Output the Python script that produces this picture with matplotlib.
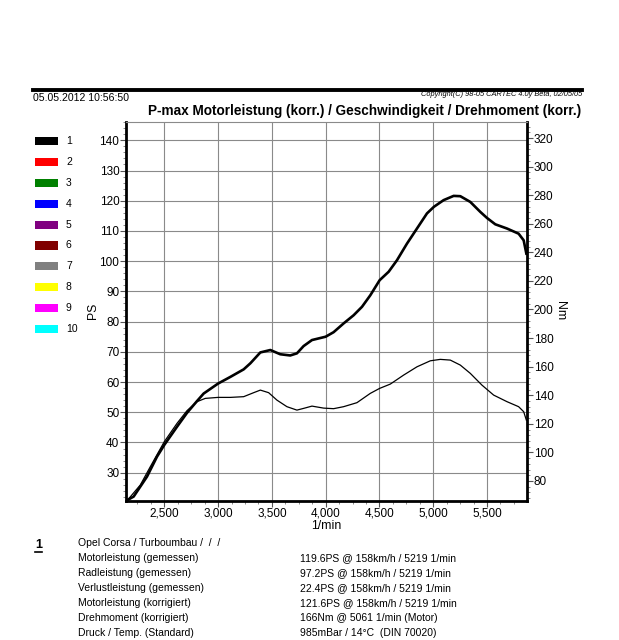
import matplotlib
matplotlib.use("Agg")
import matplotlib.pyplot as plt
from matplotlib.ticker import MultipleLocator, AutoMinorLocator, FuncFormatter
from matplotlib.patches import Rectangle

plt.rcParams['font.family'] = ['Liberation Sans', 'DejaVu Sans']

# ---- data ----
power_rpm = [2159, 2215, 2277, 2339, 2432, 2500, 2618, 2711, 2804, 2866, 3000, 3114, 3238,
             3300, 3393, 3486, 3578, 3671, 3733, 3795, 3873, 4000, 4074, 4167, 4260, 4338,
             4415, 4502, 4586, 4663, 4756, 4849, 4942, 5007, 5097, 5190, 5252, 5345, 5438,
             5500, 5577, 5686, 5794, 5841, 5866]
power_ps = [21.0, 22.1, 25.4, 28.7, 35.3, 39.2, 45.2, 49.8, 53.7, 56.2, 59.5, 61.7, 64.2,
            66.2, 69.8, 70.6, 69.2, 68.8, 69.5, 71.9, 73.9, 75.0, 76.5, 79.4, 82.1, 84.9,
            88.7, 93.7, 96.5, 100.3, 105.8, 110.8, 115.8, 118.0, 120.2, 121.6, 121.5, 119.6,
            116.3, 114.3, 112.2, 110.8, 109.1, 106.9, 102.5]

torque_rpm = [2159, 2277, 2370, 2500, 2618, 2711, 2804, 2881, 3000, 3114, 3238, 3331, 3393,
              3470, 3547, 3640, 3733, 3795, 3873, 3981, 4074, 4167, 4291, 4415, 4502, 4601,
              4725, 4849, 4973, 5066, 5159, 5252, 5345, 5453, 5562, 5686, 5794, 5841, 5866]
torque_nm = [66.7, 77.2, 90.0, 107.5, 120.3, 129.2, 135.5, 137.8, 138.5, 138.5, 139.0, 141.8,
             143.6, 141.8, 136.6, 132.0, 129.6, 130.8, 132.4, 131.0, 130.6, 132.0, 134.8,
             141.3, 144.8, 147.8, 154.1, 159.9, 164.1, 165.1, 164.6, 161.1, 155.3, 147.1,
             140.1, 135.5, 132.0, 128.5, 122.6]

legend_labels = ['1', '2', '3', '4', '5', '6', '7', '8', '9', '10']
legend_colors = ['#000000', '#ff0000', '#008000', '#0000ff', '#800080', '#800000',
                 '#808080', '#ffff00', '#ff00ff', '#00ffff']

info_names = ['Motorleistung (gemessen)', 'Radleistung (gemessen)', 'Verlustleistung (gemessen)',
              'Motorleistung (korrigiert)', 'Drehmoment (korrigiert)', 'Druck / Temp. (Standard)']
info_values = ['119.6PS @ 158km/h / 5219 1/min', '97.2PS @ 158km/h / 5219 1/min',
               '22.4PS @ 158km/h / 5219 1/min', '121.6PS @ 158km/h / 5219 1/min',
               '166Nm @ 5061 1/min (Motor)', '985mBar / 14°C  (DIN 70020)']

W, H = 619, 640
fig = plt.figure(figsize=(W / 100, H / 100), dpi=100)
fig.patch.set_facecolor('white')

def fx(px):
    return px / W

def fy(py):
    return 1 - py / H

ax_l, ax_r, ax_t, ax_b = 126, 527, 122, 501
ax = fig.add_axes([fx(ax_l), fy(ax_b), fx(ax_r) - fx(ax_l), fy(ax_t) - fy(ax_b)])
ax2 = ax.twinx()

ax.set_xlim(2144, 5872)
ax.set_ylim(20.64, 146.05)
ax2.set_ylim(66.0, 331.2)

ax.plot(power_rpm, power_ps, color='black', lw=1.9, zorder=3)
ax2.plot(torque_rpm, torque_nm, color='black', lw=0.9, zorder=3)

ax.xaxis.set_major_locator(MultipleLocator(500))
ax.xaxis.set_minor_locator(AutoMinorLocator(4))
ax.yaxis.set_major_locator(MultipleLocator(10))
ax.yaxis.set_minor_locator(AutoMinorLocator(5))
ax2.yaxis.set_major_locator(MultipleLocator(20))
ax2.yaxis.set_minor_locator(AutoMinorLocator(5))
ax.xaxis.set_major_formatter(FuncFormatter(lambda v, p: f"{int(v):,}"))

ax.grid(True, which='major', color='#8a8a8a', lw=0.8)
ax.set_axisbelow(True)

for a in (ax, ax2):
    a.tick_params(which='major', length=4, width=0.8, labelsize=8.5, pad=0.8, color='#555555')
    a.tick_params(which='minor', length=2, width=0.6, color='#777777')

for s in ('left', 'bottom', 'right'):
    ax2.spines[s].set_linewidth(2.0)
    ax2.spines[s].set_color('black')
ax2.spines['top'].set_linewidth(0.8)
ax2.spines['top'].set_color('#8a8a8a')
for s in ax.spines.values():
    s.set_visible(False)

ax.set_xlabel('1/min', fontsize=8.8, labelpad=0)
ax.set_ylabel('PS', fontsize=8.8)
ax2.set_ylabel('Nm', fontsize=8.8, rotation=270)
axw = ax_r - ax_l
axh = ax_b - ax_t
ax.yaxis.set_label_coords((99 - ax_l) / axw, (ax_b - 311) / axh)
ax2.yaxis.set_label_coords((566 - ax_l) / axw, (ax_b - 311) / axh)

# header
fig.add_artist(plt.Line2D([fx(33), fx(582)], [fy(90), fy(90)], color='black', lw=2.8))
fig.text(fx(33), fy(98), '05.05.2012 10:56:50', fontsize=7.6, va='center', ha='left')
fig.text(fx(582), fy(95), 'Copyright(C) 98-05 CARTEC 4.0y Beta, 02/05/05',
         fontsize=5.3, style='italic', va='center', ha='right')
fig.text(fx(365), fy(111), 'P-max Motorleistung (korr.) / Geschwindigkeit / Drehmoment (korr.)',
         fontsize=9.8, fontweight='bold', va='center', ha='center')

# legend swatches
for i, (lab, col) in enumerate(zip(legend_labels, legend_colors)):
    yc = 141 + i * 20.9
    fig.add_artist(Rectangle((fx(35), fy(yc + 4)), fx(23), fy(yc - 4) - fy(yc + 4),
                             transform=fig.transFigure, facecolor=col, edgecolor='none'))
    fig.text(fx(66), fy(yc), lab, fontsize=7.5, va='center', ha='left')

# info block
fig.text(fx(35), fy(545), '1', fontsize=9, fontweight='bold', va='center', ha='left')
fig.add_artist(plt.Line2D([fx(35), fx(42)], [fy(552), fy(552)], color='black', lw=1.2))
fig.text(fx(78), fy(543), 'Opel Corsa / Turboumbau /  /  /', fontsize=7.5, va='center', ha='left')
for i, (n, v) in enumerate(zip(info_names, info_values)):
    yy = 558 + i * 15
    fig.text(fx(78), fy(yy), n, fontsize=7.5, va='center', ha='left')
    fig.text(fx(300), fy(yy), v, fontsize=7.5, va='center', ha='left')

fig.savefig('out.png', dpi=100, facecolor='white')
